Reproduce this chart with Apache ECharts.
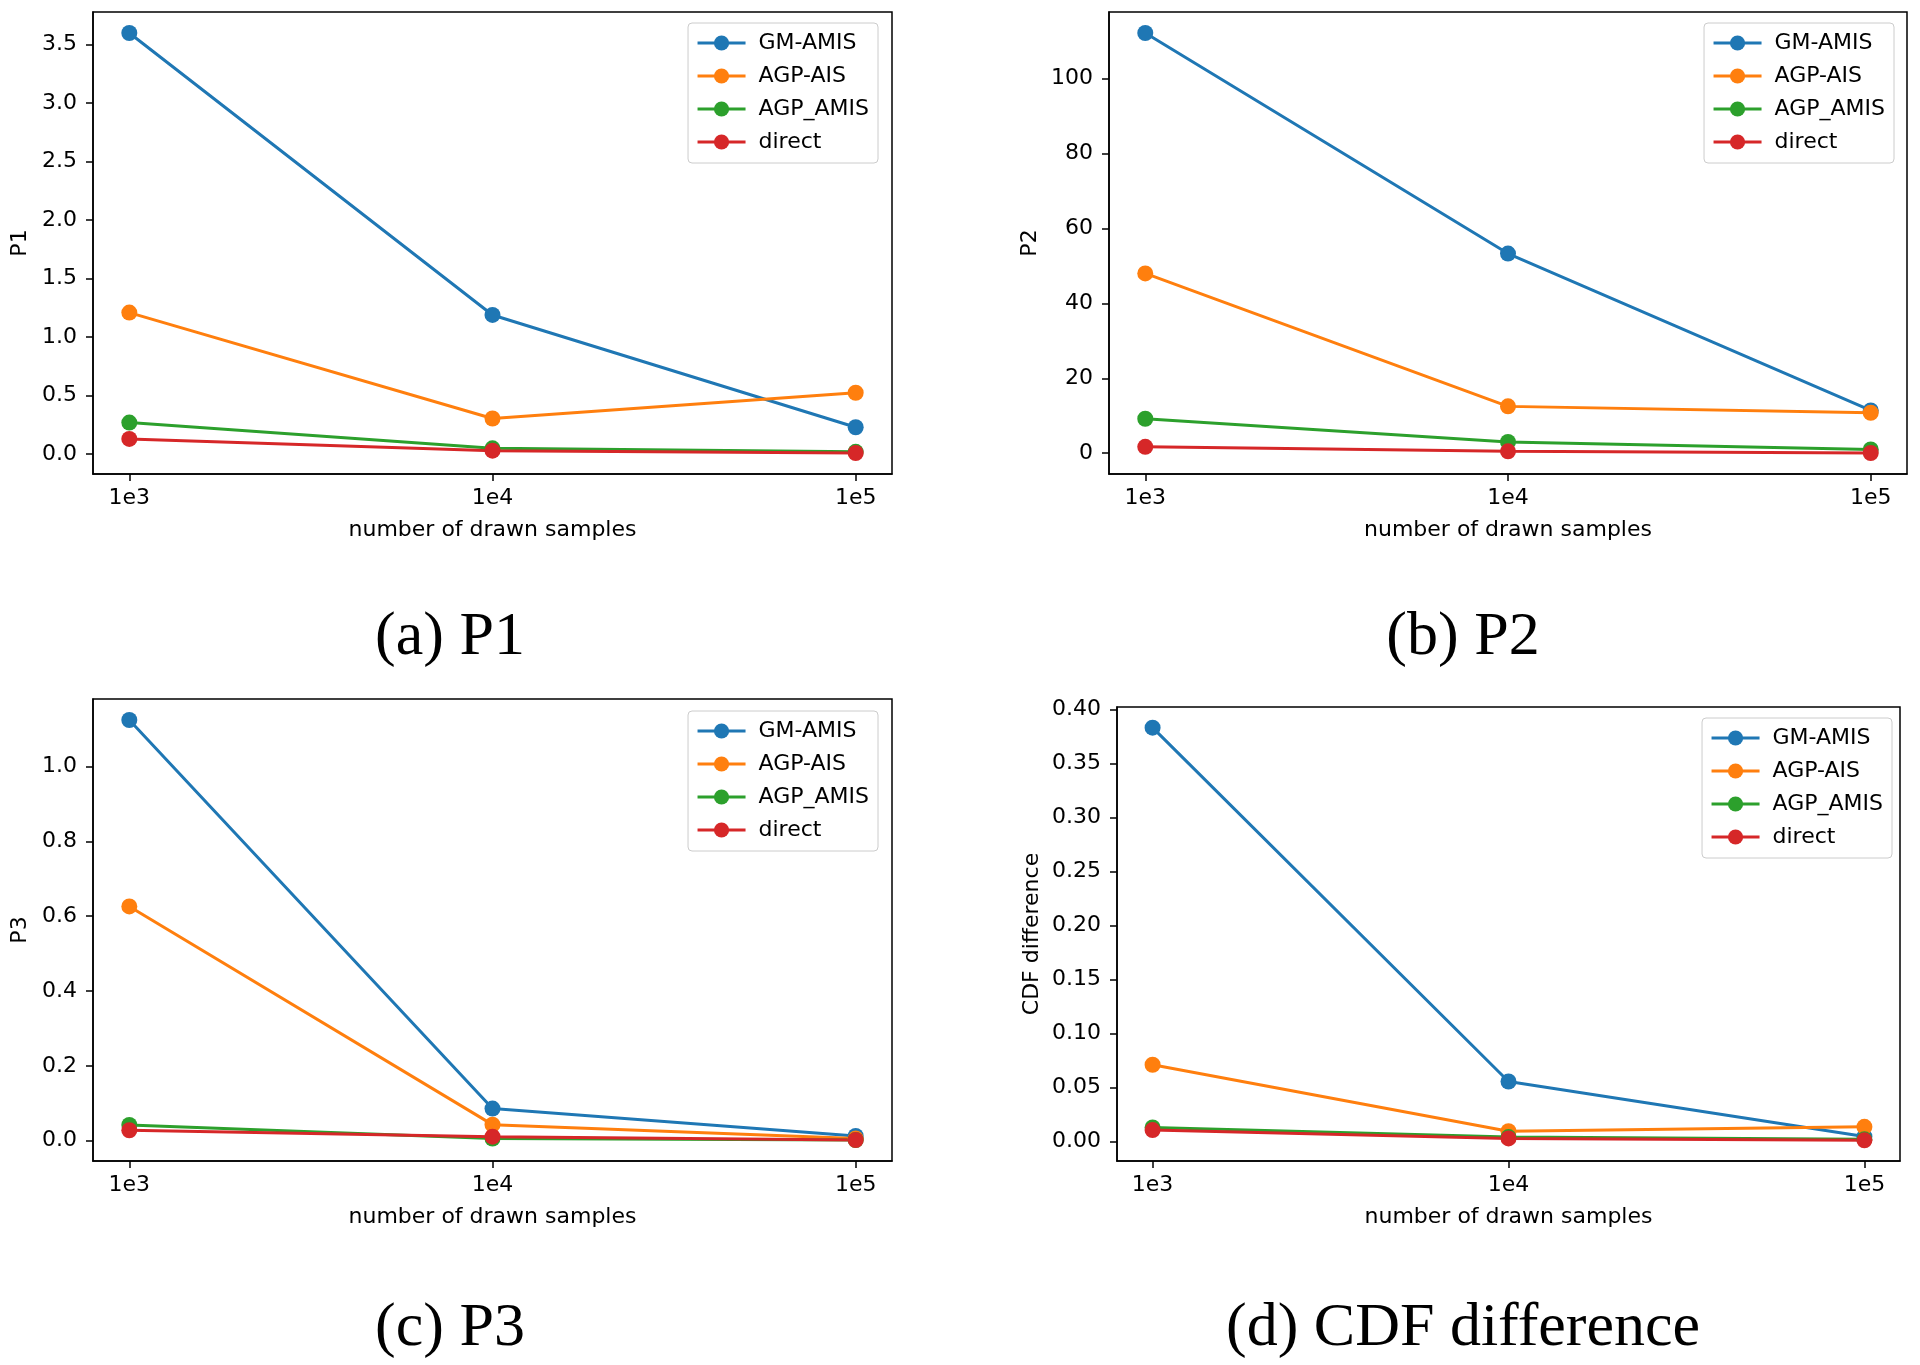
<!DOCTYPE html>
<html>
<head>
<meta charset="utf-8">
<script src="https://cdn.jsdelivr.net/npm/echarts@6/dist/echarts.min.js"></script>
<style>
  html, body { margin: 0; padding: 0; background: #fff; }
  #chart { width: 1920px; height: 1365px; }
</style>
</head>
<body>
<div id="chart"></div>
<script>
const sampleLabels = ['1e3', '1e4', '1e5'];
const methodNames = ['GM-AMIS', 'AGP-AIS', 'AGP_AMIS', 'direct'];
const methodColors = ['#1f77b4', '#ff7f0e', '#2ca02c', '#d62728'];

// one row per method, same order as methodNames
const p1Values = [
  [3.60, 1.19, 0.23],
  [1.21, 0.305, 0.525],
  [0.27, 0.05, 0.02],
  [0.13, 0.03, 0.01]
];
const p2Values = [
  [112.2, 53.3, 11.4],
  [48.0, 12.5, 10.8],
  [9.2, 3.0, 1.0],
  [1.7, 0.5, 0.05]
];
const p3Values = [
  [1.124, 0.086, 0.013],
  [0.626, 0.043, 0.006],
  [0.042, 0.006, 0.002],
  [0.028, 0.011, 0.002]
];
const cdfValues = [
  [0.383, 0.0555, 0.0045],
  [0.071, 0.0095, 0.0135],
  [0.013, 0.004, 0.002],
  [0.0105, 0.0028, 0.001]
];

const p1Ticks = [0, 0.5, 1.0, 1.5, 2.0, 2.5, 3.0, 3.5];
const p2Ticks = [0, 20, 40, 60, 80, 100];
const p3Ticks = [0, 0.2, 0.4, 0.6, 0.8, 1.0];
const cdfTicks = [0, 0.05, 0.10, 0.15, 0.20, 0.25, 0.30, 0.35, 0.40];

const FONT = 'DejaVu Sans';
const FONT_SIZE = 22;
const LINE_W = 3;

const panels = [
  { values: p1Values, ticks: p1Ticks, decimals: 1, yName: 'P1', caption: '(a) P1',
    grid: { left: 93, top: 12, width: 799, height: 462 }, nameGap: 62,
    legend: { right: 1042, top: 23 }, captionAt: [450, 638] },
  { values: p2Values, ticks: p2Ticks, decimals: 0, yName: 'P2', caption: '(b) P2',
    grid: { left: 1109, top: 12, width: 798, height: 462 }, nameGap: 68,
    legend: { right: 26, top: 23 }, captionAt: [1463, 638] },
  { values: p3Values, ticks: p3Ticks, decimals: 1, yName: 'P3', caption: '(c) P3',
    grid: { left: 93, top: 699, width: 799, height: 462 }, nameGap: 62,
    legend: { right: 1042, top: 711 }, captionAt: [450, 1329] },
  { values: cdfValues, ticks: cdfTicks, decimals: 2, yName: 'CDF difference', caption: '(d) CDF difference',
    grid: { left: 1117, top: 707, width: 783, height: 454 }, nameGap: 74,
    legend: { right: 28, top: 718 }, captionAt: [1463, 1329] }
];

// matplotlib style auto limits: 5% padding around the data
function paddedRange(values) {
  const all = values.flat();
  const lo = Math.min(...all);
  const hi = Math.max(...all);
  const pad = (hi - lo) * 0.05;
  return [lo - pad, hi + pad];
}

function axisTextStyle() {
  return { fontFamily: FONT, fontSize: FONT_SIZE, color: '#000' };
}

function xAxisFor(i) {
  return {
    type: 'value',
    gridIndex: i,
    min: -0.1,
    max: 2.1,
    name: 'number of drawn samples',
    nameLocation: 'middle',
    nameGap: 45,
    nameTextStyle: axisTextStyle(),
    axisLine: { show: true, onZero: false, lineStyle: { color: '#000', width: 1.5 } },
    axisTick: { show: true, length: 7, customValues: [0, 1, 2], lineStyle: { color: '#000', width: 1.5 } },
    axisLabel: Object.assign({
      margin: 13,
      customValues: [0, 1, 2],
      formatter: v => sampleLabels[Math.round(v)]
    }, axisTextStyle()),
    splitLine: { show: false }
  };
}

function yAxisFor(p, i) {
  const [min, max] = paddedRange(p.values);
  return {
    type: 'value',
    gridIndex: i,
    min: min,
    max: max,
    name: p.yName,
    nameLocation: 'middle',
    nameGap: p.nameGap,
    nameTextStyle: axisTextStyle(),
    axisLine: { show: true, onZero: false, lineStyle: { color: '#000', width: 1.5 } },
    axisTick: { show: true, length: 7, customValues: p.ticks, lineStyle: { color: '#000', width: 1.5 } },
    axisLabel: Object.assign({
      margin: 16,
      customValues: p.ticks,
      formatter: v => v.toFixed(p.decimals)
    }, axisTextStyle()),
    splitLine: { show: false }
  };
}

function legendFor(p) {
  return {
    data: methodNames,
    orient: 'vertical',
    align: 'left',
    right: p.legend.right,
    top: p.legend.top,
    itemWidth: 48,
    itemHeight: 19,
    itemGap: 11,
    padding: [9, 9, 10, 8],
    borderColor: '#cccccc',
    borderWidth: 1,
    borderRadius: 4,
    backgroundColor: 'rgba(255,255,255,0.8)',
    selectedMode: false,
    lineStyle: { width: LINE_W },
    textStyle: Object.assign({ padding: [0, 0, 0, 8] }, axisTextStyle())
  };
}

function seriesFor(p, i) {
  return p.values.map((row, m) => ({
    type: 'line',
    name: methodNames[m],
    xAxisIndex: i,
    yAxisIndex: i,
    data: row.map((v, j) => [j, v]),
    symbol: 'circle',
    symbolSize: 16,
    lineStyle: { width: LINE_W, color: methodColors[m] },
    itemStyle: { color: methodColors[m] },
    emphasis: { disabled: true }
  }));
}

const chart = echarts.init(document.getElementById('chart'), null, { renderer: 'canvas' });

const option = {
  animation: false,
  backgroundColor: '#fff',
  grid: panels.map(p => Object.assign({
    show: true,
    borderColor: '#000',
    borderWidth: 1.5,
    backgroundColor: 'transparent',
    containLabel: false,
    outerBoundsMode: 'none'
  }, p.grid)),
  xAxis: panels.map((p, i) => xAxisFor(i)),
  yAxis: panels.map((p, i) => yAxisFor(p, i)),
  legend: panels.map(p => legendFor(p)),
  series: panels.flatMap((p, i) => seriesFor(p, i)),
  graphic: panels.map(p => ({
    type: 'text',
    x: p.captionAt[0],
    y: p.captionAt[1],
    style: {
      text: p.caption,
      font: '62px "Liberation Serif"',
      fill: '#000',
      textAlign: 'center',
      textVerticalAlign: 'middle',
      align: 'center',
      verticalAlign: 'middle'
    }
  }))
};

chart.setOption(option);
</script>
</body>
</html>
